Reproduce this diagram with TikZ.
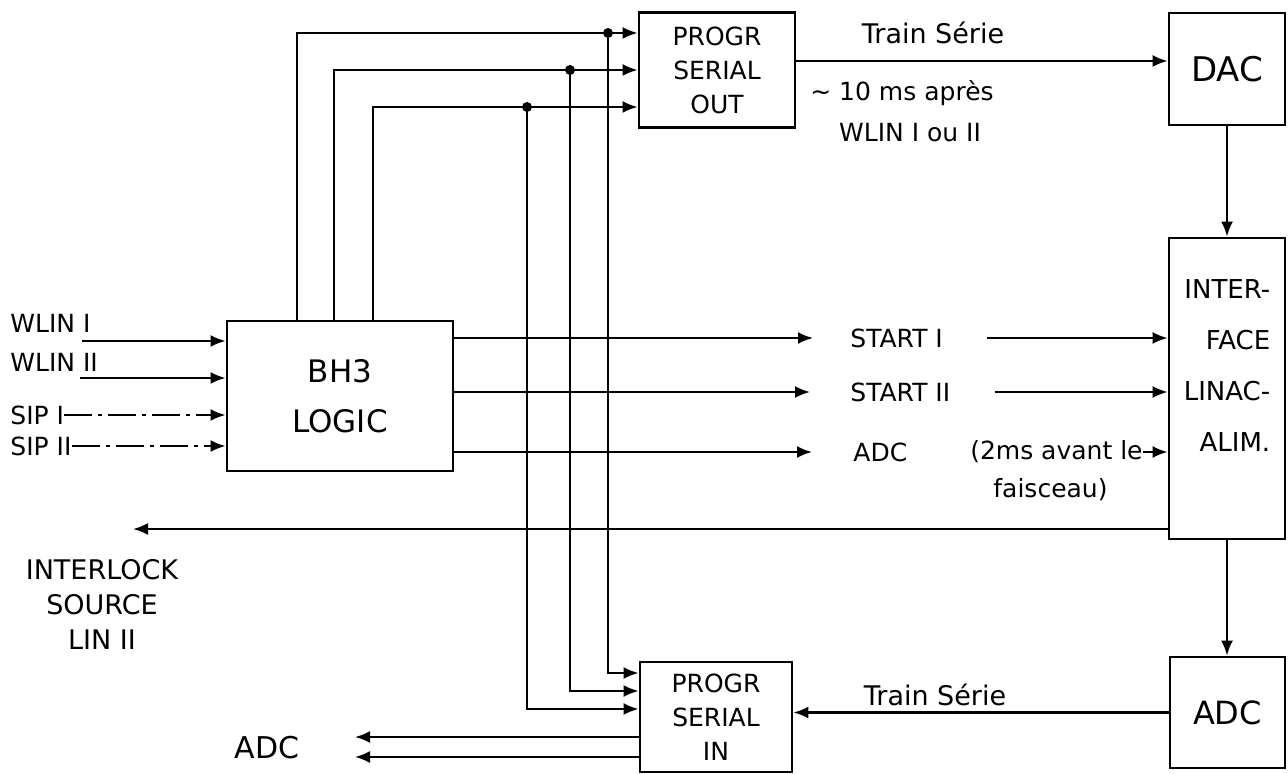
\documentclass[tikz,border=0pt]{standalone}
\usepackage{fontspec}
\setmainfont{DejaVu Sans}
\usepackage{tikz}
\usetikzlibrary{arrows.meta, positioning}

\begin{document}
\begin{tikzpicture}[
    x=0.5pt, y=-0.5pt,
    box/.style={rectangle, draw, line width=1.4pt, align=center, font=\fontsize{12.5}{17}\selectfont},
    lbl/.style={inner sep=0pt, font=\fontsize{12.5}{15}\selectfont},
    arrow/.style={line width=1.1pt, ->, >={Latex[length=7.5pt,width=6pt]}},
    sigline/.style={arrow, dash pattern=on 14pt off 3pt on 2pt off 3pt},
    dot/.style={circle, fill, inner sep=0pt, minimum size=5pt}
]
\useasboundingbox (0,0) rectangle (1288,774);

% Nodes
\node[box, minimum width=78pt, minimum height=57.5pt] (out) at (717,70) {PROGR\\SERIAL\\OUT};
\node[box, minimum width=58pt, minimum height=56pt, font=\fontsize{17}{19}\selectfont] (dac) at (1227,69) {DAC};
\node[box, minimum width=58pt, minimum height=150.5pt, align=right, text depth=23pt, font=\fontsize{13}{25.5}\selectfont] (iface) at (1227,388.5) {INTER-\\FACE\\LINAC-\\ALIM.};
\node[box, minimum width=57.5pt, minimum height=55.5pt, font=\fontsize{16}{18}\selectfont] (adc) at (1227.5,712.5) {ADC};
\node[box, minimum width=76pt, minimum height=55pt] (in) at (716,717) {PROGR\\SERIAL\\IN};
\node[box, minimum width=113pt, minimum height=75pt, font=\fontsize{15.5}{25}\selectfont] (logic) at (340,396) {BH3\\LOGIC};

% Labels
\node[lbl, anchor=west] (wlin1) at (10,323) {WLIN I};
\node[lbl, anchor=west] (wlin2) at (10,362) {WLIN II};
\node[lbl, anchor=west] (sip1) at (10,415) {SIP I};
\node[lbl, anchor=west] (sip2) at (10,446) {SIP II};
\node[lbl, font=\fontsize{13.5}{16}\selectfont] (train1) at (933,33) {Train Série};
\node[lbl] (apres) at (902,93) {∼ 10 ms après};
\node[lbl] (wlinou) at (910,133) {WLIN I ou II};
\node[lbl, anchor=west] (start1) at (850,338) {START I};
\node[lbl, anchor=west] (start2) at (850,392) {START II};
\node[lbl, anchor=west] (adclbl) at (853,452) {ADC};
\node[lbl, anchor=east] (avant) at (1143,452) {(2ms avant le};
\node[lbl, anchor=west] (faisc) at (993,490) {faisceau)};
\node[lbl, align=center, font=\fontsize{13.5}{17.5}\selectfont] (ilock) at (102,604) {INTERLOCK\\SOURCE\\LIN II};
\node[lbl, font=\fontsize{13.5}{16}\selectfont] (train2) at (935,695) {Train Série};
\node[lbl, font=\fontsize{15}{17}\selectfont] (adcout) at (267,748) {ADC};

\coordinate (w1) at (82,341);
\coordinate (w2) at (80,378);
\coordinate (il) at (133,529);
\coordinate (o1) at (355,737);
\coordinate (o2) at (355,757);

% Inputs
\draw[arrow] (w1) -- (w1 -| logic.west);
\draw[arrow] (w2) -- (w2 -| logic.west);
\draw[sigline] (sip1.east) -- (sip1 -| logic.west);
\draw[sigline] (sip2.east) -- (sip2 -| logic.west);

% Logic to serial out and in
\draw[arrow] ([xshift=-21.5pt]logic.north) |- ([yshift=18.5pt]out.west);
\draw[arrow] ([xshift=-3pt]logic.north) |- (out.west);
\draw[arrow] ([xshift=16.5pt]logic.north) |- ([yshift=-18.5pt]out.west);
\node[dot] (d1) at (608,33) {};
\node[dot] (d2) at (570,70) {};
\node[dot] (d3) at (527,107) {};
\draw[arrow] (d1.center) |- ([yshift=22pt]in.west);
\draw[arrow] (d2.center) |- ([yshift=13pt]in.west);
\draw[arrow] (d3.center) |- ([yshift=4pt]in.west);

% Logic outputs
\draw[arrow, shorten >=18.5pt] (start1 -| logic.east) -- (start1.west);
\draw[arrow, shorten <=22pt] (start1.east) -- (start1 -| iface.west);
\draw[arrow, shorten >=20pt] (start2 -| logic.east) -- (start2.west);
\draw[arrow, shorten <=22pt] (start2.east) -- (start2 -| iface.west);
\draw[arrow, shorten >=20.5pt] (adclbl -| logic.east) -- (adclbl.west);
\draw[arrow] (avant.east) -- (avant -| iface.west);

% Right column
\draw[arrow] ([yshift=4.5pt]out.east) -- ([yshift=4.5pt]out.east -| dac.west);
\draw[arrow] (dac.south) -- (iface.north);
\draw[arrow] (iface.south) -- (iface.south |- adc.north);
\draw[arrow] (adc.west) -- (adc.west -| in.east);
\draw[arrow] (il -| iface.west) -- (il);

% Serial in outputs
\draw[arrow] (o1 -| in.west) -- (o1);
\draw[arrow] (o2 -| in.west) -- (o2);

\end{tikzpicture}
\end{document}
